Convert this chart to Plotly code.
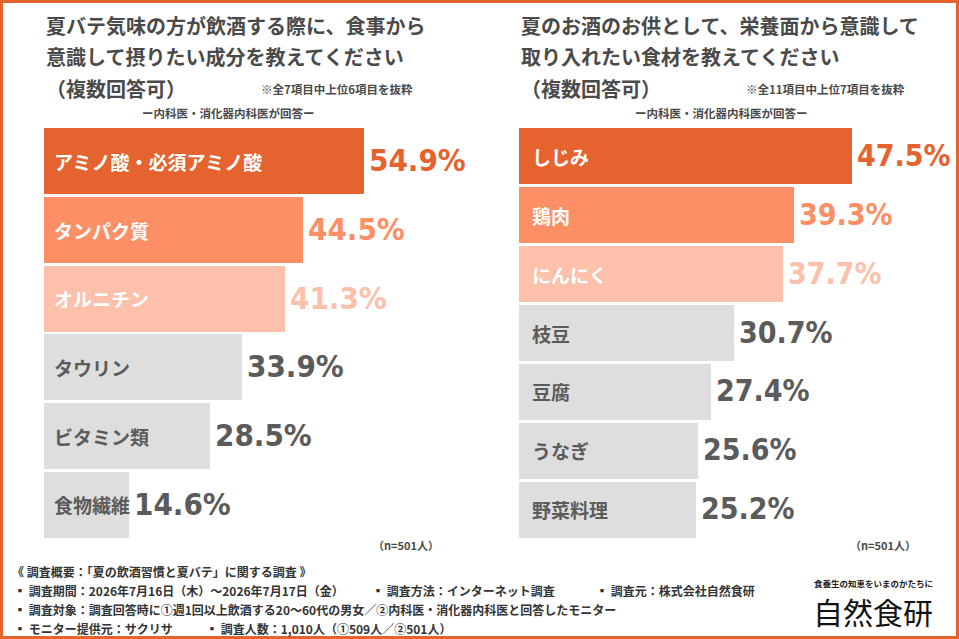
import plotly.graph_objects as go

# data
left_items = ["アミノ酸・必須アミノ酸", "タンパク質", "オルニチン", "タウリン", "ビタミン類", "食物繊維"]
left_values = [54.9, 44.5, 41.3, 33.9, 28.5, 14.6]
right_items = ["しじみ", "鶏肉", "にんにく", "枝豆", "豆腐", "うなぎ", "野菜料理"]
right_values = [47.5, 39.3, 37.7, 30.7, 27.4, 25.6, 25.2]

left_title = ["夏バテ気味の方が飲酒する際に、食事から", "意識して摂りたい成分を教えてください", "（複数回答可）"]
right_title = ["夏のお酒のお供として、栄養面から意識して", "取り入れたい食材を教えてください", "（複数回答可）"]
left_note = "※全7項目中上位6項目を抜粋"
right_note = "※全11項目中上位7項目を抜粋"
sub_note = "ー内科医・消化器内科医が回答ー"
n_note = "（n=501人）"

footer_lines = [
    [("《 調査概要：「夏の飲酒習慣と夏バテ」に関する調査 》", 10)],
    [("▪ 調査期間：2026年7月16日（木）～2026年7月17日（金）", 12),
     ("▪ 調査方法：インターネット調査", 370),
     ("▪ 調査元：株式会社自然食研", 594)],
    [("▪ 調査対象：調査回答時に①週1回以上飲酒する20～60代の男女／②内科医・消化器内科医と回答したモニター", 12)],
    [("▪ モニター提供元：サクリサ", 12),
     ("▪ 調査人数：1,010人（①509人／②501人）", 204)],
]

W, H = 959, 639
ORANGE = "#E5632F"
MID = "#FD8F66"
LIGHT = "#FDC0AA"
GRAY = "#DEDEDE"
GRAY_TXT = "#5B5B5B"
TITLE = "#4A4A4A"
JP = "Noto Sans CJK JP"
NUM = "DejaVu Sans Condensed, sans-serif"


def px_x(v):
    return v / W


def px_y(v):
    return 1 - v / H


def rank_colors(n):
    bar = [ORANGE, MID, LIGHT] + [GRAY] * (n - 3)
    lab = ["white"] * 3 + [GRAY_TXT] * (n - 3)
    num = [ORANGE, MID, LIGHT] + [GRAY_TXT] * (n - 3)
    return bar, lab, num


fig = go.Figure()
annotations = []

panels = [
    (left_items, left_values, "x", "y", 0.96, 8, 31, 19),
    (right_items, right_values, "x2", "y2", 0.95, 11, 30, 19),
]
for items, values, xa, ya, bw, lab_shift, num_size, lab_size in panels:
    bar_c, lab_c, num_c = rank_colors(len(items))
    fig.add_trace(go.Bar(
        x=values, y=items, orientation="h", width=bw,
        marker=dict(color=bar_c, line=dict(width=0)),
        xaxis=xa, yaxis=ya, hoverinfo="skip", showlegend=False,
    ))
    for it, v, lc, nc in zip(items, values, lab_c, num_c):
        annotations.append(dict(
            x=0, y=it, xref=xa, yref=ya, text=it, showarrow=False,
            xanchor="left", yanchor="middle", xshift=lab_shift,
            font=dict(family=JP, size=lab_size, color=lc, weight="bold"),
        ))
        annotations.append(dict(
            x=v, y=it, xref=xa, yref=ya, text=f"{v:.1f}%", showarrow=False,
            xanchor="left", yanchor="middle", xshift=3, yshift=1,
            font=dict(family=NUM, size=num_size, color=nc, weight="bold"),
        ))


def paper_text(text, x, y, size, color, anchor="left", weight="bold", family=JP):
    annotations.append(dict(
        x=px_x(x), y=px_y(y), xref="paper", yref="paper", text=text,
        showarrow=False, xanchor=anchor, yanchor="middle",
        font=dict(family=family, size=size, color=color, weight=weight),
    ))


for line, ys in zip(left_title, [25, 57, 88]):
    paper_text(line, 44, ys, 20, TITLE)
for line, ys in zip(right_title, [25, 57, 88]):
    paper_text(line, 519, ys, 20, TITLE)

paper_text(left_note, 259, 89, 11.5, TITLE)
paper_text(right_note, 744, 89, 11.5, TITLE)
paper_text(sub_note, 228, 113, 11.5, TITLE, anchor="center")
paper_text(sub_note, 721, 113, 11.5, TITLE, anchor="center")
paper_text(n_note, 441, 545, 11, TITLE, anchor="right")
paper_text(n_note, 918, 545, 11, TITLE, anchor="right")

for line, ys in zip(footer_lines, [571, 590, 609, 628]):
    for text, xs in line:
        paper_text(text, xs, ys, 12, "#333333")

paper_text("食養生の知恵をいまのかたちに", 873, 583, 8.5, "#222222", anchor="center")
paper_text("自然食研", 873, 611, 30, "#111111", anchor="center", weight="normal")

y_dom = [px_y(539), px_y(127)]
axis_off = dict(showgrid=False, zeroline=False, showticklabels=False, showline=False, fixedrange=True)

fig.update_layout(
    width=W, height=H,
    margin=dict(l=0, r=0, t=0, b=0),
    paper_bgcolor="white", plot_bgcolor="white",
    bargap=0,
    xaxis=dict(domain=[px_x(44), px_x(480)], range=[0, 436 / 5.83], **axis_off),
    yaxis=dict(domain=y_dom, type="category", categoryorder="array",
               categoryarray=left_items, autorange="reversed", **axis_off),
    xaxis2=dict(domain=[px_x(519), px_x(955)], range=[0, 436 / 7.01], **axis_off),
    yaxis2=dict(domain=y_dom, type="category", categoryorder="array",
                categoryarray=right_items, autorange="reversed", anchor="x2", **axis_off),
    annotations=annotations,
    shapes=[dict(type="rect", xref="paper", yref="paper", x0=0, y0=0, x1=1, y1=1,
                 line=dict(color=ORANGE, width=6), fillcolor="rgba(0,0,0,0)")],
)

# page body has a default 8px margin; drop it so the figure fills the window
fig.write_html("out.html", config={"displayModeBar": False},
               post_script="document.body.style.margin='0';")
